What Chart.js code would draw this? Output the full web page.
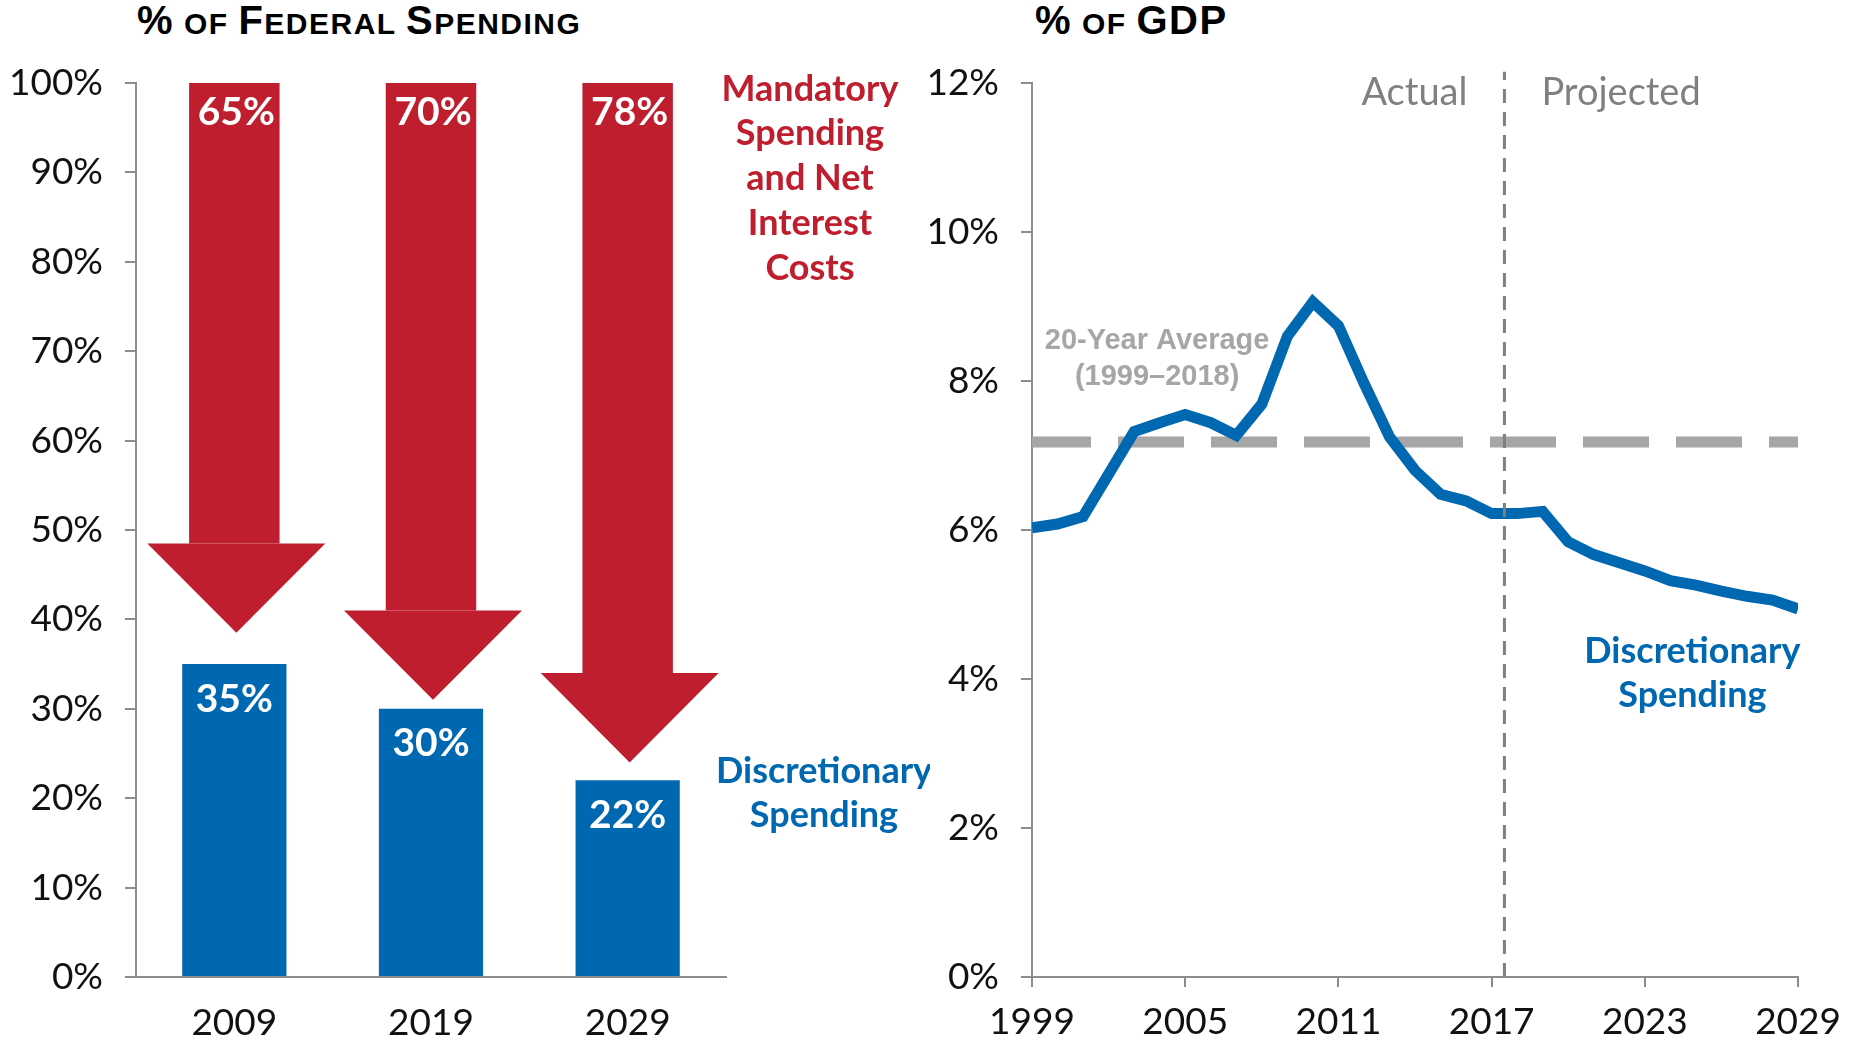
<!DOCTYPE html>
<html>
<head>
<meta charset="utf-8">
<script src="https://cdn.jsdelivr.net/npm/chart.js@4.4.1/dist/chart.umd.min.js"></script>
<style>
  html, body { margin: 0; padding: 0; background: #fff; }
  body { width: 1854px; height: 1041px; position: relative; overflow: hidden; }
  .title {
    position: absolute; top: -2px;
    font-family: "Liberation Sans", Arial, sans-serif;
    font-weight: bold; line-height: normal; color: #000;
    letter-spacing: 1.5px; white-space: nowrap;
  }
  .title .big { font-size: 40px; }
  .title .sm { font-size: 30px; }
  #leftBox { position: absolute; left: 0; top: 0; width: 930px; height: 1041px; }
  #rightBox { position: absolute; left: 930px; top: 0; width: 924px; height: 1041px; }
</style>
</head>
<body>
<div class="title" style="left:137px"><span class="big">%</span><span class="sm"> OF </span><span class="big">F</span><span class="sm">EDERAL </span><span class="big">S</span><span class="sm">PENDING</span></div>
<div class="title" style="left:1035px"><span class="big">%</span><span class="sm"> OF </span><span class="big">GDP</span></div>
<div id="leftBox"><canvas id="shareChart"></canvas></div>
<div id="rightBox"><canvas id="gdpChart"></canvas></div>
<script>
// --- left panel: % of federal spending ---
const shareYears = ["2009", "2019", "2029"];
const discretionaryShare = [35, 30, 22];
const mandatoryShare = [65, 70, 78];
const arrowShaftEnd = [48.5, 41, 34];   // where the red shaft stops
const arrowTip = [38.5, 31, 24];        // point of the arrow head
const shareTicks = [0, 10, 20, 30, 40, 50, 60, 70, 80, 90, 100];

// --- right panel: % of GDP ---
const gdpYears = [1999, 2000, 2001, 2002, 2003, 2004, 2005, 2006, 2007, 2008,
    2009, 2010, 2011, 2012, 2013, 2014, 2015, 2016, 2017, 2018,
    2019, 2020, 2021, 2022, 2023, 2024, 2025, 2026, 2027, 2028, 2029];
const discretionaryGdp = [6.03, 6.08, 6.18, 6.75, 7.32, 7.44, 7.55, 7.44, 7.27, 7.69,
    8.6, 9.06, 8.74, 7.97, 7.25, 6.8, 6.48, 6.39, 6.22, 6.22,
    6.25, 5.84, 5.67, 5.56, 5.45, 5.32, 5.26, 5.18, 5.11, 5.06, 4.94];
const averageYears = [1999, 2029];
const averageGdp = [7.18, 7.18];
const splitYear = 2017.5;
const gdpXTicks = [1999, 2005, 2011, 2017, 2023, 2029];
const gdpYTicks = [0, 2, 4, 6, 8, 10, 12];

const RED = "#be1e2d";
const BLUE = "#0067b1";
const AXIS = "#8c8c8c";
const TICK_FONT = { family: "Lato, 'DejaVu Sans', sans-serif", size: 37 };
const LABEL_FAMILY = "Lato, 'DejaVu Sans', sans-serif";

// arrow heads + value labels on the left panel
const arrowPlugin = {
    id: "arrows",
    afterDatasetsDraw(chart) {
        const { ctx, chartArea } = chart;
        const x = chart.scales.x, y = chart.scales.y;
        const catW = (chartArea.right - chartArea.left) / shareYears.length;
        ctx.save();
        ctx.fillStyle = RED;
        shareYears.forEach((_, i) => {
            const cx = x.getPixelForValue(i) + 2;
            const half = catW * 0.905 / 2;
            ctx.beginPath();
            ctx.moveTo(cx - half, y.getPixelForValue(arrowShaftEnd[i]));
            ctx.lineTo(cx + half, y.getPixelForValue(arrowShaftEnd[i]));
            ctx.lineTo(cx, y.getPixelForValue(arrowTip[i]));
            ctx.closePath();
            ctx.fill();
        });
        ctx.fillStyle = "#fff";
        ctx.font = "bold 39px " + LABEL_FAMILY;
        ctx.textAlign = "center";
        ctx.textBaseline = "middle";
        shareYears.forEach((_, i) => {
            const cx = x.getPixelForValue(i);
            ctx.fillText(mandatoryShare[i] + "%", cx + 2, y.getPixelForValue(100) + 29);
            ctx.fillText(discretionaryShare[i] + "%", cx, y.getPixelForValue(discretionaryShare[i]) + 35);
        });
        // side labels
        ctx.font = "bold 36px " + LABEL_FAMILY;
        ctx.fillStyle = RED;
        ["Mandatory", "Spending", "and Net", "Interest", "Costs"].forEach((t, k) => {
            ctx.fillText(t, chartArea.right + 84, 89 + k * 44.8);
        });
        ctx.fillStyle = BLUE;
        ctx.fillText("Discretionary", chartArea.right + 98, y.getPixelForValue(23));
        ctx.fillText("Spending", chartArea.right + 98, y.getPixelForValue(18.1));
        ctx.restore();
    }
};

new Chart(document.getElementById("shareChart"), {
    type: "bar",
    data: {
        labels: shareYears,
        datasets: [
            {
                label: "Discretionary",
                data: discretionaryShare,
                backgroundColor: BLUE,
                barPercentage: 0.53,
                categoryPercentage: 1,
                grouped: false,
                order: 2,
            },
            {
                label: "Mandatory",
                data: shareYears.map((_, i) => [arrowShaftEnd[i], discretionaryShare[i] + mandatoryShare[i]]),
                backgroundColor: RED,
                barPercentage: 0.46,
                categoryPercentage: 1,
                grouped: false,
                order: 1,
            },
        ],
    },
    options: {
        responsive: true,
        maintainAspectRatio: false,
        animation: false,
        layout: { padding: { top: 83, right: 204, bottom: 0, left: 0 } },
        plugins: { legend: { display: false }, tooltip: { enabled: false } },
        scales: {
            x: {
                grid: { display: false },
                border: { color: AXIS, width: 2 },
                ticks: { font: TICK_FONT, color: "#111", padding: 16 },
                afterFit: (s) => { s.height = 64; },
            },
            y: {
                min: 0, max: 100,
                afterBuildTicks: (s) => { s.ticks = shareTicks.map((v) => ({ value: v })); },
                grid: { drawOnChartArea: false, tickLength: 11, color: AXIS, lineWidth: 2 },
                border: { color: AXIS, width: 2 },
                ticks: { font: TICK_FONT, color: "#111", padding: 22, callback: (v) => v + "%" },
                afterFit: (s) => { s.width = 136; },
            },
        },
    },
    plugins: [arrowPlugin],
});

// text notes on the right panel
const notesPlugin = {
    id: "notes",
    afterDatasetsDraw(chart) {
        const { ctx } = chart;
        const x = chart.scales.x, y = chart.scales.y;
        const sx = x.getPixelForValue(splitYear);
        ctx.save();
        ctx.textBaseline = "middle";
        ctx.fillStyle = "#808080";
        ctx.font = "38px " + LABEL_FAMILY;
        ctx.textAlign = "right";
        ctx.fillText("Actual", sx - 37, y.getPixelForValue(11.87));
        ctx.textAlign = "left";
        ctx.fillText("Projected", sx + 37, y.getPixelForValue(11.87));
        ctx.textAlign = "center";
        ctx.fillStyle = "#a6a6a6";
        ctx.font = "bold 29px 'Liberation Sans Narrow', 'Arial Narrow', sans-serif";
        ctx.fillText("20-Year Average", x.getPixelForValue(2003.9), y.getPixelForValue(8.54));
        ctx.fillText("(1999\u20132018)", x.getPixelForValue(2003.9), y.getPixelForValue(8.05));
        ctx.fillStyle = BLUE;
        ctx.font = "bold 36px " + LABEL_FAMILY;
        ctx.fillText("Discretionary", x.getPixelForValue(2024.86), y.getPixelForValue(4.37));
        ctx.fillText("Spending", x.getPixelForValue(2024.86), y.getPixelForValue(3.78));
        ctx.restore();
    }
};

new Chart(document.getElementById("gdpChart"), {
    type: "line",
    data: {
        datasets: [
            {
                label: "split",
                data: [{ x: splitYear, y: 0 }, { x: splitYear, y: 12.15 }],
                borderColor: "#7f7f7f",
                borderWidth: 3,
                borderDash: [14, 9],
                pointRadius: 0,
                clip: false,
                order: 0,
            },
            {
                label: "Discretionary Spending",
                data: gdpYears.map((yr, i) => ({ x: yr, y: discretionaryGdp[i] })),
                borderColor: BLUE,
                borderWidth: 11,
                borderJoinStyle: "miter",
                pointRadius: 0,
                tension: 0,
                order: 1,
            },
            {
                label: "20-Year Average",
                data: averageYears.map((yr, i) => ({ x: yr, y: averageGdp[i] })),
                borderColor: "#a6a6a6",
                borderWidth: 11,
                borderDash: [66, 27],
                borderDashOffset: 7,
                pointRadius: 0,
                order: 2,
            },
        ],
    },
    options: {
        responsive: true,
        maintainAspectRatio: false,
        animation: false,
        layout: { padding: { top: 83, right: 51, bottom: 0, left: 0 } },
        plugins: { legend: { display: false }, tooltip: { enabled: false } },
        scales: {
            x: {
                type: "linear",
                min: 1999, max: 2029,
                afterBuildTicks: (s) => { s.ticks = gdpXTicks.map((v) => ({ value: v })); },
                grid: { drawOnChartArea: false, tickLength: 10, color: AXIS, lineWidth: 2 },
                border: { color: AXIS, width: 2 },
                ticks: { font: TICK_FONT, color: "#111", padding: 13, callback: (v) => String(v) },
                afterFit: (s) => { s.height = 64; },
            },
            y: {
                min: 0, max: 12,
                afterBuildTicks: (s) => { s.ticks = gdpYTicks.map((v) => ({ value: v })); },
                grid: { drawOnChartArea: false, tickLength: 11, color: AXIS, lineWidth: 2 },
                border: { color: AXIS, width: 2 },
                ticks: { font: TICK_FONT, color: "#111", padding: 22, callback: (v) => v + "%" },
                afterFit: (s) => { s.width = 102; },
            },
        },
    },
    plugins: [notesPlugin],
});
</script>
</body>
</html>
